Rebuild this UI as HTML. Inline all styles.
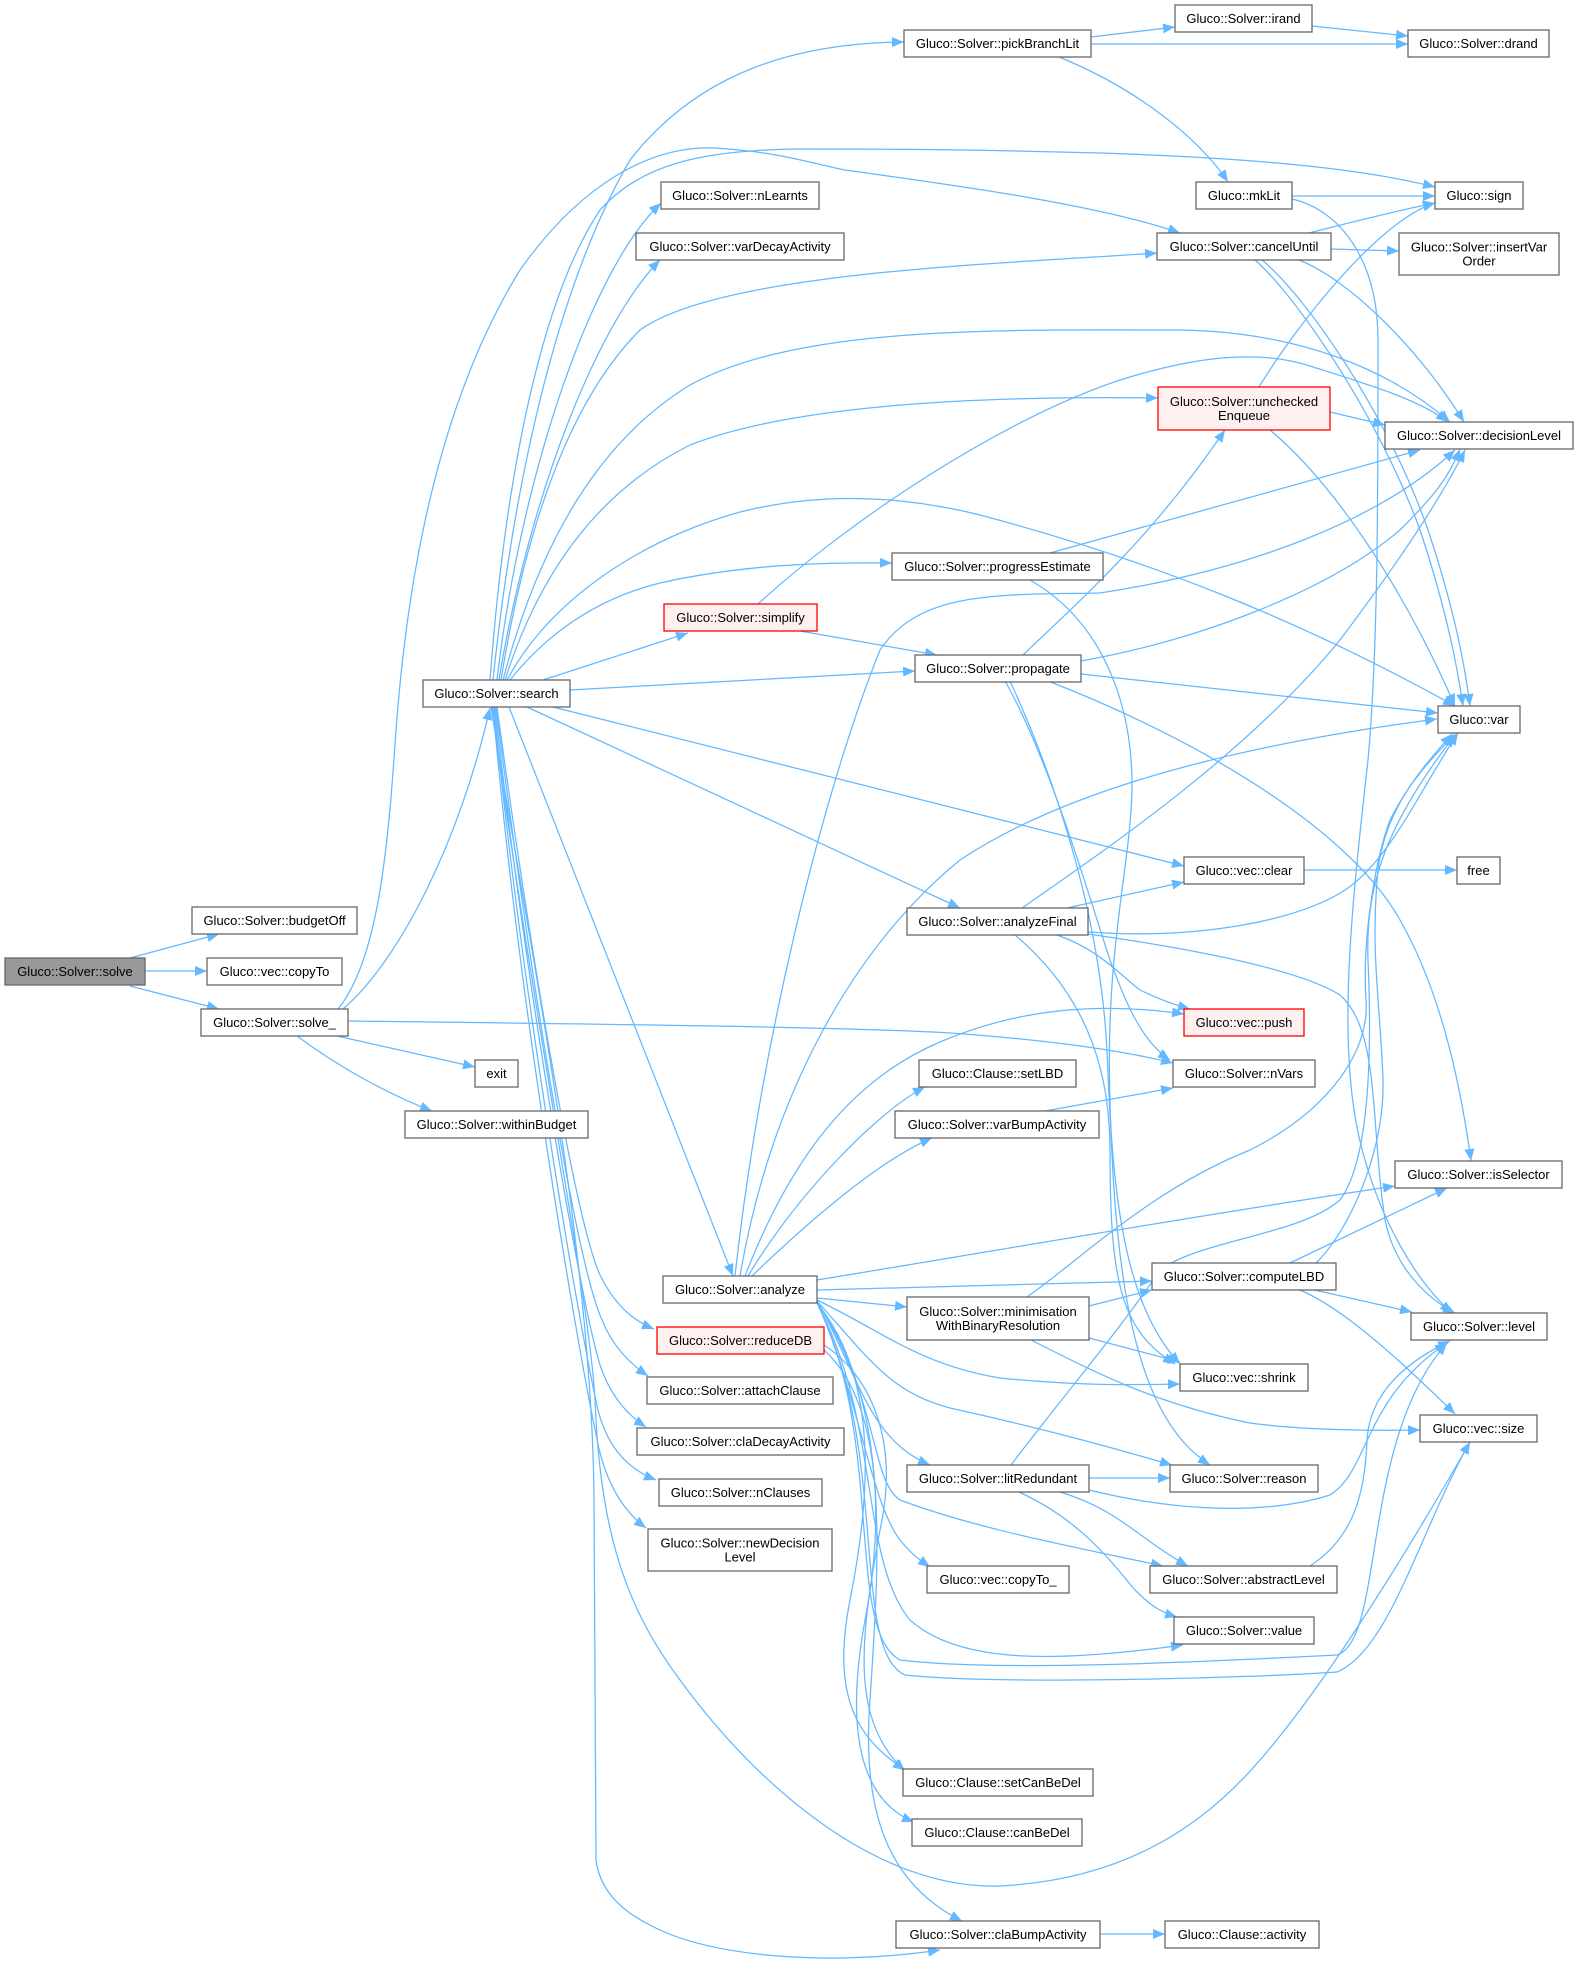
<!DOCTYPE html>
<html>
<head>
<meta charset="utf-8">
<style>
html,body{margin:0;padding:0;background:#fff;}
svg{display:block;}
text{font-family:"Liberation Sans",Arial,sans-serif;font-size:13px;fill:#000;text-anchor:middle;}
.e{fill:none;stroke:#63b8ff;stroke-width:1.25;marker-end:url(#ah);}
.n{fill:#fff;stroke:#666;stroke-width:1.3;}
.r{fill:#fff0f0;stroke:#ff0000;stroke-width:1.3;}
.g{fill:#999;stroke:#666;stroke-width:1.3;}
</style>
</head>
<body>
<svg width="1578" height="1970" viewBox="0 0 1578 1970" xmlns="http://www.w3.org/2000/svg">
<defs>
<marker id="ah" viewBox="0 0 12 10" refX="12" refY="5" markerWidth="12" markerHeight="10" markerUnits="userSpaceOnUse" orient="auto">
<path d="M0,0L12,5L0,10z" fill="#63b8ff"/>
</marker>
</defs>
<g>
<path class="e" d="M130,958 L219,934"/>
<path class="e" d="M145,971 L207,971"/>
<path class="e" d="M130,986 L219,1009"/>
<path class="e" d="M343,1009 C400,960 460,840 490,708"/>
<path class="e" d="M338,1009 C378,960 388,850 396,730 C408,570 440,400 520,270 C580,185 650,145 715,148 C780,152 810,163 845,170 C960,186 1100,205 1180,233"/>
<path class="e" d="M348,1021 C600,1024 850,1027 950,1033 C1050,1040 1120,1050 1173,1063"/>
<path class="e" d="M337,1036 L475,1067"/>
<path class="e" d="M297,1036 C340,1068 390,1095 432,1111"/>
<path class="e" d="M490,680 C505,480 540,300 600,210 C640,165 700,150 800,149 C900,149 1000,150 1100,153 C1250,158 1360,168 1435,187"/>
<path class="e" d="M493,680 C515,470 560,280 630,160 C700,70 800,43 904,42"/>
<path class="e" d="M497,680 C520,480 590,270 661,203"/>
<path class="e" d="M499,680 C530,490 600,320 660,260"/>
<path class="e" d="M501,680 C530,500 580,390 640,330 C720,272 1000,264 1157,253"/>
<path class="e" d="M503,680 C540,540 600,440 690,385 C800,325 1000,330 1180,330 C1300,332 1390,370 1450,422"/>
<path class="e" d="M505,680 C540,570 600,490 690,445 C800,402 1000,396 1158,398"/>
<path class="e" d="M507,680 C550,600 640,540 740,512 C820,492 900,495 980,515 C1150,560 1300,620 1455,706"/>
<path class="e" d="M510,680 C550,630 600,598 660,583 C740,565 820,562 892,563"/>
<path class="e" d="M543,680 L688,633"/>
<path class="e" d="M570,690 L915,671"/>
<path class="e" d="M553,707 L1184,866"/>
<path class="e" d="M527,707 L960,908"/>
<path class="e" d="M509,707 L733,1276"/>
<path class="e" d="M497,707 C530,950 575,1220 600,1275 C615,1305 632,1320 654,1329"/>
<path class="e" d="M496,707 C528,960 575,1260 602,1320 C612,1345 628,1362 648,1376"/>
<path class="e" d="M495,707 C525,980 580,1300 600,1365 C610,1395 626,1414 646,1427"/>
<path class="e" d="M494,707 C522,1000 582,1340 598,1410 C608,1450 630,1470 656,1480"/>
<path class="e" d="M493,707 C520,1020 582,1370 596,1434 C604,1480 622,1510 646,1528"/>
<path class="e" d="M492,707 C530,1000 590,1300 595,1400 C600,1520 620,1600 680,1680 C760,1790 880,1890 1000,1886 C1120,1880 1200,1830 1260,1760 C1330,1680 1420,1530 1470,1442"/>
<path class="e" d="M491,707 C530,950 592,1250 594,1500 L596,1860 C600,1890 620,1910 650,1925 C710,1958 830,1966 940,1950"/>
<path class="e" d="M1091,37 L1175,27"/>
<path class="e" d="M1091,44 L1408,44"/>
<path class="e" d="M1059,57 C1140,90 1200,140 1228,182"/>
<path class="e" d="M1312,26 L1408,36"/>
<path class="e" d="M1292,196 L1435,196"/>
<path class="e" d="M1292,199 C1340,210 1378,260 1378,340 C1378,500 1378,650 1368,760 C1350,920 1335,1060 1365,1160 C1385,1230 1420,1285 1452,1313"/>
<path class="e" d="M1309,233 C1360,220 1400,210 1435,203"/>
<path class="e" d="M1331,249 L1399,251"/>
<path class="e" d="M1299,260 C1350,280 1420,350 1464,422"/>
<path class="e" d="M1255,260 C1300,300 1380,420 1420,530 C1440,590 1455,650 1463,706"/>
<path class="e" d="M1262,260 C1310,300 1390,420 1428,530 C1448,590 1463,650 1470,706"/>
<path class="e" d="M1259,387 C1300,320 1380,220 1435,203"/>
<path class="e" d="M1330,412 L1385,425"/>
<path class="e" d="M1270,430 C1330,480 1400,580 1455,706"/>
<path class="e" d="M800,631 L937,655"/>
<path class="e" d="M758,604 C850,520 1000,420 1120,380 C1200,355 1260,350 1310,366 C1370,385 1420,400 1448,422"/>
<path class="e" d="M1023,655 C1080,600 1150,540 1225,430"/>
<path class="e" d="M1081,661 C1200,640 1330,590 1400,530 C1430,500 1448,480 1460,449"/>
<path class="e" d="M1081,674 L1438,713"/>
<path class="e" d="M1048,681 C1200,740 1350,830 1400,920 C1440,990 1460,1080 1471,1161"/>
<path class="e" d="M1005,681 C1050,760 1090,900 1110,960 C1125,1000 1140,1040 1170,1060"/>
<path class="e" d="M1010,681 C1060,790 1100,920 1107,1050 C1112,1180 1120,1300 1180,1364"/>
<path class="e" d="M1030,580 C1100,620 1133,700 1132,790 C1130,870 1105,950 1110,1100 C1115,1300 1140,1420 1210,1465"/>
<path class="e" d="M1050,553 L1420,450"/>
<path class="e" d="M1304,870 L1457,870"/>
<path class="e" d="M1067,908 L1184,882"/>
<path class="e" d="M1022,908 C1120,840 1250,750 1340,640 C1400,560 1440,500 1465,450"/>
<path class="e" d="M1088,932 C1200,940 1300,920 1345,890 C1390,860 1420,790 1458,733"/>
<path class="e" d="M1088,934 C1200,950 1300,970 1340,995 C1380,1030 1370,1120 1385,1220 C1395,1270 1430,1300 1455,1313"/>
<path class="e" d="M1057,935 C1100,950 1120,975 1140,990 C1160,1000 1175,1005 1190,1009"/>
<path class="e" d="M1015,935 C1080,990 1110,1060 1110,1150 C1110,1280 1120,1330 1175,1364"/>
<path class="e" d="M1045,1111 L1173,1088"/>
<path class="e" d="M1100,1934 L1165,1934"/>
<path class="e" d="M735,1276 C760,1050 820,800 880,650 C920,590 1000,595 1100,593 C1250,570 1380,520 1455,450"/>
<path class="e" d="M740,1276 C770,1100 850,950 960,860 C1050,800 1200,750 1437,719"/>
<path class="e" d="M745,1276 C790,1160 850,1080 940,1042 C1020,1008 1100,1002 1184,1014"/>
<path class="e" d="M748,1276 C800,1190 880,1110 925,1087"/>
<path class="e" d="M752,1276 C810,1220 880,1160 932,1138"/>
<path class="e" d="M817,1280 C1000,1250 1200,1215 1395,1186"/>
<path class="e" d="M817,1290 L1152,1281"/>
<path class="e" d="M817,1298 L907,1307"/>
<path class="e" d="M817,1300 C880,1330 920,1365 1000,1378 C1080,1386 1130,1385 1180,1384"/>
<path class="e" d="M817,1300 C860,1380 870,1440 930,1465"/>
<path class="e" d="M817,1301 C870,1360 890,1392 950,1408 C1050,1430 1120,1450 1172,1465"/>
<path class="e" d="M817,1302 C880,1400 870,1480 900,1500 C980,1530 1080,1548 1163,1566"/>
<path class="e" d="M817,1302 C860,1400 870,1500 900,1540 C912,1555 920,1560 930,1567"/>
<path class="e" d="M817,1303 C880,1420 860,1560 910,1620 C960,1665 1060,1662 1183,1645"/>
<path class="e" d="M817,1303 C885,1440 845,1630 900,1660 C1000,1672 1200,1662 1337,1655 C1385,1640 1360,1440 1447,1343"/>
<path class="e" d="M817,1303 C890,1450 850,1650 905,1675 C1000,1685 1250,1678 1337,1672 C1390,1650 1420,1530 1470,1442"/>
<path class="e" d="M817,1303 C880,1380 870,1500 850,1600 C830,1700 860,1740 905,1770"/>
<path class="e" d="M817,1303 C890,1400 880,1550 870,1700 C860,1830 900,1890 962,1921"/>
<path class="e" d="M824,1345 C870,1375 900,1440 880,1530 C860,1640 850,1720 905,1771"/>
<path class="e" d="M824,1350 C880,1400 885,1520 865,1620 C845,1730 860,1800 914,1822"/>
<path class="e" d="M1089,1306 L1152,1290"/>
<path class="e" d="M1089,1338 L1180,1362"/>
<path class="e" d="M1031,1340 C1100,1375 1160,1405 1250,1423 C1300,1430 1370,1431 1420,1430"/>
<path class="e" d="M1027,1297 C1080,1260 1150,1190 1250,1150 C1330,1110 1370,1050 1366,1000 C1362,940 1375,860 1390,820 C1410,780 1435,755 1455,734"/>
<path class="e" d="M1316,1263 C1350,1230 1385,1150 1383,1080 C1380,1000 1370,950 1378,870 C1385,810 1420,770 1452,734"/>
<path class="e" d="M1290,1263 L1447,1188"/>
<path class="e" d="M1310,1289 L1412,1312"/>
<path class="e" d="M1297,1289 C1340,1305 1400,1360 1455,1414"/>
<path class="e" d="M1011,1465 C1060,1400 1120,1330 1160,1270 C1200,1240 1300,1235 1340,1200 C1370,1160 1372,1050 1368,960 C1365,880 1390,820 1455,735"/>
<path class="e" d="M1089,1478 L1170,1478"/>
<path class="e" d="M1060,1492 C1120,1510 1140,1540 1188,1566"/>
<path class="e" d="M1019,1492 C1080,1520 1110,1560 1135,1590 C1150,1605 1160,1612 1177,1617"/>
<path class="e" d="M1089,1490 C1150,1505 1250,1520 1330,1495 C1370,1470 1362,1400 1447,1343"/>
<path class="e" d="M1310,1566 C1350,1540 1365,1500 1367,1440 C1370,1390 1410,1360 1450,1341"/>
</g>
<g>
<rect class="g" x="5" y="958" width="140" height="27"/><text x="75" y="976">Gluco::Solver::solve</text>
<rect class="n" x="192" y="907" width="165" height="27"/><text x="274.5" y="925">Gluco::Solver::budgetOff</text>
<rect class="n" x="207" y="958" width="135" height="27"/><text x="274.5" y="976">Gluco::vec::copyTo</text>
<rect class="n" x="201" y="1009" width="147" height="27"/><text x="274.5" y="1027">Gluco::Solver::solve_</text>
<rect class="n" x="475" y="1060" width="43" height="27"/><text x="496.5" y="1078">exit</text>
<rect class="n" x="405" y="1111" width="183" height="27"/><text x="496.5" y="1129">Gluco::Solver::withinBudget</text>
<rect class="n" x="423" y="680" width="147" height="27"/><text x="496.5" y="698">Gluco::Solver::search</text>
<rect class="n" x="904" y="30" width="187" height="27"/><text x="997.5" y="48">Gluco::Solver::pickBranchLit</text>
<rect class="n" x="1175" y="5" width="137" height="27"/><text x="1243.5" y="23">Gluco::Solver::irand</text>
<rect class="n" x="1408" y="30" width="141" height="27"/><text x="1478.5" y="48">Gluco::Solver::drand</text>
<rect class="n" x="661" y="182" width="158" height="27"/><text x="740" y="200">Gluco::Solver::nLearnts</text>
<rect class="n" x="636" y="233" width="208" height="27"/><text x="740" y="251">Gluco::Solver::varDecayActivity</text>
<rect class="n" x="1196" y="182" width="96" height="27"/><text x="1244" y="200">Gluco::mkLit</text>
<rect class="n" x="1435" y="182" width="88" height="27"/><text x="1479" y="200">Gluco::sign</text>
<rect class="n" x="1157" y="233" width="174" height="27"/><text x="1244" y="251">Gluco::Solver::cancelUntil</text>
<rect class="n" x="1399" y="233" width="160" height="42"/><text x="1479" y="251.5">Gluco::Solver::insertVar</text><text x="1479" y="265.5">Order</text>
<rect class="r" x="1158" y="387" width="172" height="43"/><text x="1244" y="406">Gluco::Solver::unchecked</text><text x="1244" y="420">Enqueue</text>
<rect class="n" x="1385" y="422" width="188" height="27"/><text x="1479" y="440">Gluco::Solver::decisionLevel</text>
<rect class="n" x="892" y="553" width="211" height="27"/><text x="997.5" y="571">Gluco::Solver::progressEstimate</text>
<rect class="r" x="664" y="604" width="153" height="27"/><text x="740.5" y="622">Gluco::Solver::simplify</text>
<rect class="n" x="915" y="655" width="166" height="27"/><text x="998" y="673">Gluco::Solver::propagate</text>
<rect class="n" x="1438" y="706" width="82" height="27"/><text x="1479" y="724">Gluco::var</text>
<rect class="n" x="1184" y="857" width="120" height="27"/><text x="1244" y="875">Gluco::vec::clear</text>
<rect class="n" x="1457" y="857" width="43" height="27"/><text x="1478.5" y="875">free</text>
<rect class="n" x="907" y="908" width="181" height="27"/><text x="997.5" y="926">Gluco::Solver::analyzeFinal</text>
<rect class="r" x="1184" y="1009" width="120" height="27"/><text x="1244" y="1027">Gluco::vec::push</text>
<rect class="n" x="919" y="1060" width="157" height="27"/><text x="997.5" y="1078">Gluco::Clause::setLBD</text>
<rect class="n" x="1173" y="1060" width="142" height="27"/><text x="1244" y="1078">Gluco::Solver::nVars</text>
<rect class="n" x="895" y="1111" width="204" height="27"/><text x="997" y="1129">Gluco::Solver::varBumpActivity</text>
<rect class="n" x="1395" y="1161" width="167" height="27"/><text x="1478.5" y="1179">Gluco::Solver::isSelector</text>
<rect class="n" x="1152" y="1263" width="184" height="27"/><text x="1244" y="1281">Gluco::Solver::computeLBD</text>
<rect class="n" x="663" y="1276" width="154" height="27"/><text x="740" y="1294">Gluco::Solver::analyze</text>
<rect class="n" x="907" y="1297" width="182" height="43"/><text x="998" y="1316">Gluco::Solver::minimisation</text><text x="998" y="1330">WithBinaryResolution</text>
<rect class="n" x="1411" y="1313" width="136" height="27"/><text x="1479" y="1331">Gluco::Solver::level</text>
<rect class="r" x="657" y="1327" width="167" height="27"/><text x="740.5" y="1345">Gluco::Solver::reduceDB</text>
<rect class="n" x="1180" y="1364" width="128" height="27"/><text x="1244" y="1382">Gluco::vec::shrink</text>
<rect class="n" x="647" y="1377" width="186" height="27"/><text x="740" y="1395">Gluco::Solver::attachClause</text>
<rect class="n" x="1420" y="1415" width="117" height="27"/><text x="1478.5" y="1433">Gluco::vec::size</text>
<rect class="n" x="637" y="1428" width="207" height="27"/><text x="740.5" y="1446">Gluco::Solver::claDecayActivity</text>
<rect class="n" x="907" y="1465" width="182" height="27"/><text x="998" y="1483">Gluco::Solver::litRedundant</text>
<rect class="n" x="1170" y="1465" width="148" height="27"/><text x="1244" y="1483">Gluco::Solver::reason</text>
<rect class="n" x="659" y="1479" width="163" height="27"/><text x="740.5" y="1497">Gluco::Solver::nClauses</text>
<rect class="n" x="648" y="1529" width="184" height="42"/><text x="740" y="1547.5">Gluco::Solver::newDecision</text><text x="740" y="1561.5">Level</text>
<rect class="n" x="1150" y="1566" width="187" height="27"/><text x="1243.5" y="1584">Gluco::Solver::abstractLevel</text>
<rect class="n" x="927" y="1566" width="142" height="27"/><text x="998" y="1584">Gluco::vec::copyTo_</text>
<rect class="n" x="1174" y="1617" width="140" height="27"/><text x="1244" y="1635">Gluco::Solver::value</text>
<rect class="n" x="903" y="1769" width="190" height="27"/><text x="998" y="1787">Gluco::Clause::setCanBeDel</text>
<rect class="n" x="912" y="1819" width="170" height="27"/><text x="997" y="1837">Gluco::Clause::canBeDel</text>
<rect class="n" x="896" y="1921" width="204" height="27"/><text x="998" y="1939">Gluco::Solver::claBumpActivity</text>
<rect class="n" x="1165" y="1921" width="154" height="27"/><text x="1242" y="1939">Gluco::Clause::activity</text>
</g>
</svg>
</body>
</html>
